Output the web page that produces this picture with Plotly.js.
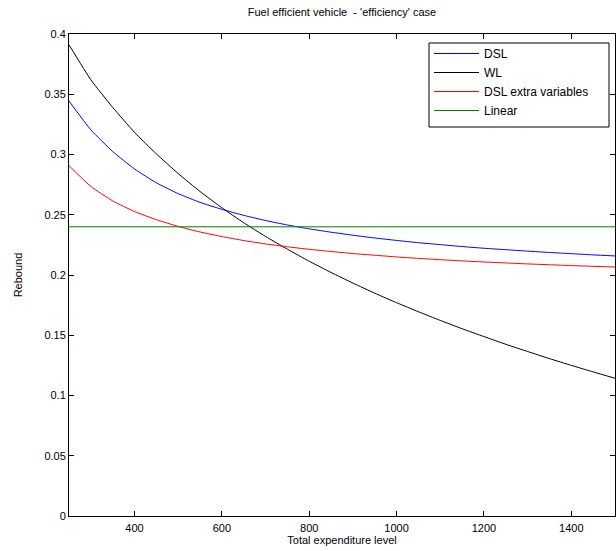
<!DOCTYPE html>
<html>
<head>
<meta charset="utf-8">
<script src="https://cdn.plot.ly/plotly-3.0.1.min.js"></script>
<style>
  html, body { margin: 0; padding: 0; background: #fff; }
  #chart { width: 616px; height: 551px; }
</style>
</head>
<body>
<div id="chart"></div>
<script>
// Total expenditure level (x)
const expenditure = [250, 300, 350, 400, 450, 500, 550, 600, 650, 700, 750, 800, 850,
                     900, 950, 1000, 1050, 1100, 1150, 1200, 1250, 1300, 1350, 1400, 1450, 1500];

// Rebound values
const dsl = [0.3444, 0.3205, 0.3025, 0.2880, 0.2765, 0.2675, 0.2603, 0.2545, 0.2495, 0.2452,
             0.2415, 0.2383, 0.2355, 0.2330, 0.2307, 0.2287, 0.2268, 0.2252, 0.2236, 0.2222,
             0.2210, 0.2198, 0.2187, 0.2177, 0.2167, 0.2158];

const wl = [0.3910, 0.3620, 0.3391, 0.3184, 0.3005, 0.2842, 0.2693, 0.2558, 0.2434, 0.2320,
            0.2214, 0.2114, 0.2021, 0.1933, 0.1849, 0.1770, 0.1695, 0.1623, 0.1554, 0.1489,
            0.1425, 0.1365, 0.1306, 0.1250, 0.1196, 0.1143];

const dslExtra = [0.2907, 0.2735, 0.2615, 0.2527, 0.2459, 0.2403, 0.2357, 0.2319, 0.2286, 0.2258,
                  0.2234, 0.2213, 0.2195, 0.2178, 0.2164, 0.2150, 0.2138, 0.2127, 0.2117, 0.2108,
                  0.2100, 0.2092, 0.2085, 0.2078, 0.2072, 0.2066];

const linearX = [250, 1500];
const linearY = [0.24, 0.24];

const seriesNames = ['DSL', 'WL', 'DSL extra variables', 'Linear'];

const xTicks = [400, 600, 800, 1000, 1200, 1400];
const yTicks = [0, 0.05, 0.1, 0.15, 0.2, 0.25, 0.3, 0.35, 0.4];
const yTickText = ['0', '0.05', '0.1', '0.15', '0.2', '0.25', '0.3', '0.35', '0.4'];

const FONT = 'Liberation Sans, Arial, Helvetica, sans-serif';

const traces = [
  { x: expenditure, y: dsl, name: seriesNames[0], mode: 'lines',
    line: { color: '#0000ff', width: 1, shape: 'spline', smoothing: 0.5 } },
  { x: expenditure, y: wl, name: seriesNames[1], mode: 'lines',
    line: { color: '#000000', width: 1, shape: 'spline', smoothing: 0.5 } },
  { x: expenditure, y: dslExtra, name: seriesNames[2], mode: 'lines',
    line: { color: '#ff0000', width: 1, shape: 'spline', smoothing: 0.5 } },
  { x: linearX, y: linearY, name: seriesNames[3], mode: 'lines',
    line: { color: '#008000', width: 1 } }
];

// plot area in pixels: x 69..615, y 34..516
const PL = 69, PW = 546, PT = 34, PH = 482;
const px = v => (v - PL) / PW;
const py = v => (PT + PH - v) / PH;

const layout = {
  width: 616, height: 551,
  margin: { l: 69, r: 1, t: 34, b: 35, pad: 0 },
  paper_bgcolor: '#ffffff', plot_bgcolor: '#ffffff',
  font: { family: FONT, size: 11, color: '#000' },
  showlegend: true,
  title: {
    text: "Fuel efficient vehicle  - 'efficiency' case",
    font: { family: FONT, size: 11, color: '#000' },
    x: 0.5, xref: 'paper', xanchor: 'center',
    y: 1 - 12 / 551, yref: 'container', yanchor: 'middle'
  },
  xaxis: {
    range: [250, 1500], tickvals: xTicks, ticktext: xTicks.map(String),
    ticks: 'inside', ticklen: 5, tickwidth: 1, tickcolor: '#000',
    showline: true, linecolor: '#000', linewidth: 1, mirror: 'allticks',
    showgrid: false, zeroline: false, ticklabelstandoff: 2,
    tickfont: { family: FONT, size: 11, color: '#000' },
    title: { text: 'Total expenditure level', standoff: 3,
             font: { family: FONT, size: 11, color: '#000' } }
  },
  yaxis: {
    range: [0, 0.4], tickvals: yTicks, ticktext: yTickText,
    ticks: 'inside', ticklen: 5, tickwidth: 1, tickcolor: '#000',
    showline: true, linecolor: '#000', linewidth: 1, mirror: 'allticks',
    showgrid: false, zeroline: false,
    tickfont: { family: FONT, size: 11, color: '#000' },
    title: { text: 'Rebound', standoff: 19,
             font: { family: FONT, size: 11, color: '#000' } }
  },
  shapes: [{
    type: 'rect', xref: 'paper', yref: 'paper', layer: 'above',
    x0: px(429), x1: px(609), y0: py(127), y1: py(43),
    fillcolor: '#ffffff', line: { color: '#000', width: 1 }
  }],
  legend: {
    x: px(429), y: py(39), xanchor: 'left', yanchor: 'top',
    xref: 'paper', yref: 'paper',
    bgcolor: 'rgba(0,0,0,0)', borderwidth: 0,
    font: { family: FONT, size: 12, color: '#000' },
    tracegroupgap: 0,
    itemwidth: 45
  }
};

Plotly.newPlot('chart', traces, layout, { displayModeBar: false, staticPlot: true });
</script>
</body>
</html>
